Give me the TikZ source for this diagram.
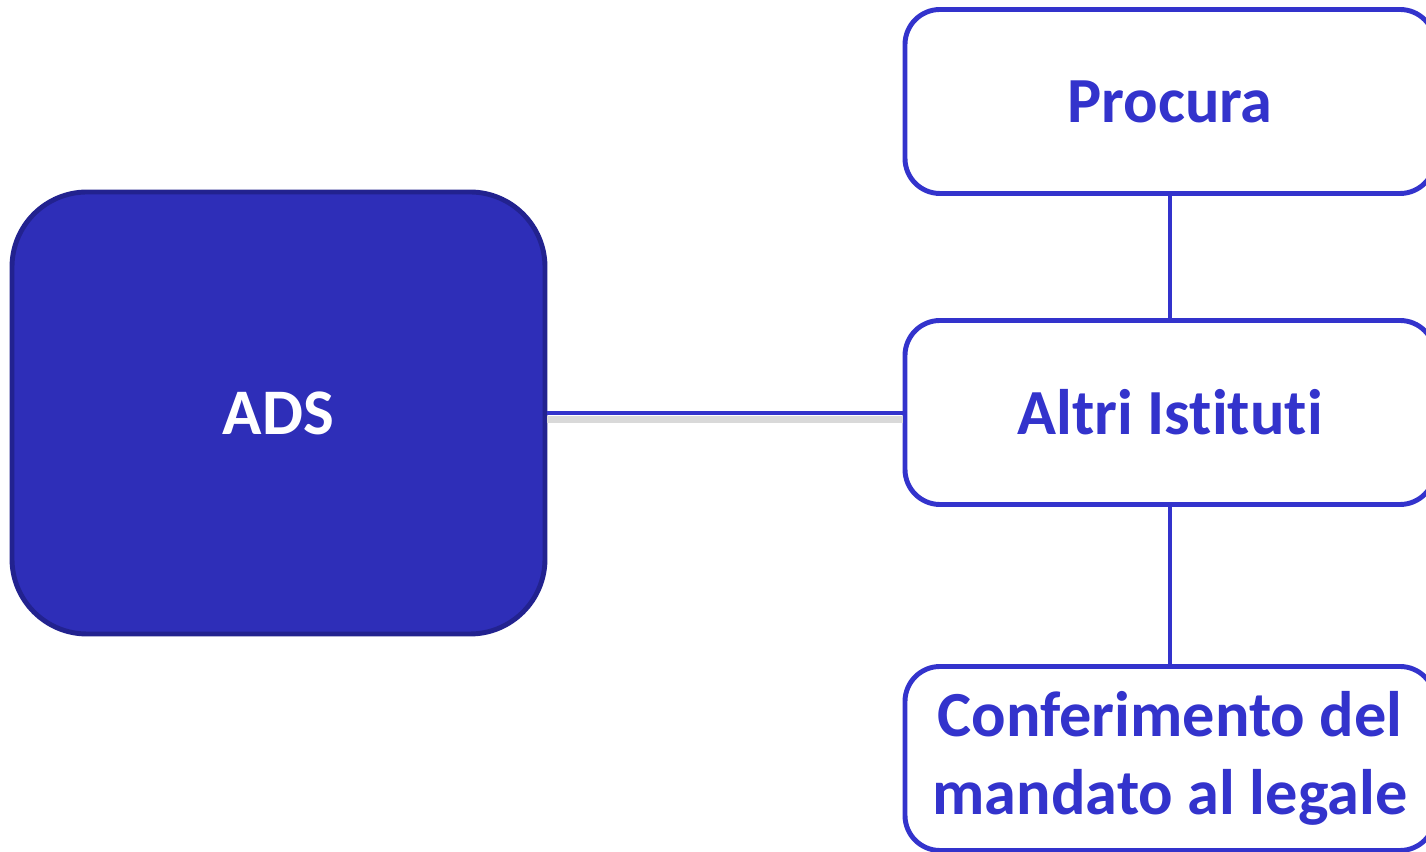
\documentclass[tikz,border=0pt]{standalone}
\usepackage{fontspec}
\setmainfont{Carlito}[Ligatures=NoCommon]
\usetikzlibrary{positioning}
\definecolor{adsfill}{HTML}{2E2EB8}
\definecolor{adsedge}{HTML}{22228F}
\definecolor{boxblue}{HTML}{3333CC}
\tikzset{
  mainbox/.style={draw=adsedge,fill=adsfill,line width=1.4pt,rounded corners=0.75cm,
    minimum width=5.33cm,minimum height=4.42cm,text=white,font=\fontsize{18.5}{22}\selectfont\bfseries},
  subbox/.style={draw=boxblue,fill=white,line width=1.4pt,rounded corners=0.35cm,
    minimum width=5.3cm,minimum height=1.84cm,text=boxblue,align=center,
    font=\fontsize{18.3}{22.2}\selectfont\bfseries},
  link/.style={draw=boxblue,line width=1.4pt}
}
\begin{document}
\begin{tikzpicture}
    \useasboundingbox (0,0) rectangle (14.26,8.52);
    \node[mainbox] (ads) at (2.785,4.39) {ADS};
    \node[subbox] (procura) at (11.70,7.505) {Procura};
    \node[subbox] (altri) at (11.70,4.395) {Altri Istituti};
    \node[subbox] (mandato) at (11.70,0.935) {Conferimento del\\mandato al legale};
    \draw[black!15,line width=2pt] ([yshift=-1.8pt]ads.east) -- ([yshift=-1.8pt]ads.east -| altri.west);
    \draw[link] (ads.east) -- (ads.east -| altri.west);
    \draw[link] (procura.south) -- (altri.north);
    \draw[link] (altri.south) -- (mandato.north);
\end{tikzpicture}
\end{document}
